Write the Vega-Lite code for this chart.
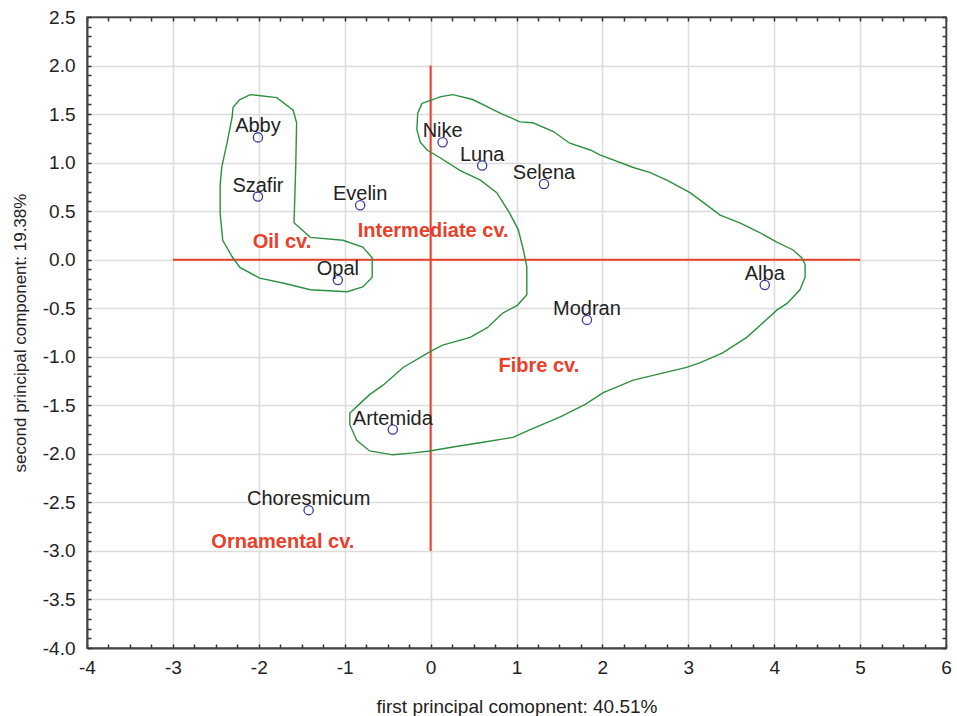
{
  "$schema": "https://vega.github.io/schema/vega-lite/v6.json",
  "width": 859,
  "height": 631,
  "autosize": {"type": "none"},
  "padding": {"left": 87, "top": 17, "right": 11, "bottom": 68},
  "background": "white",
  "config": {
    "font": "Liberation Sans",
    "view": {"stroke": "#444444", "strokeWidth": 1.5},
    "axis": {"labelFont": "Liberation Sans", "titleFont": "Liberation Sans", "labelColor": "#222222", "titleColor": "#222222"}
  },
  "datasets": {
    "pts": [
      {"name": "Abby", "x": -2.01, "y": 1.26},
      {"name": "Szafir", "x": -2.01, "y": 0.65},
      {"name": "Evelin", "x": -0.82, "y": 0.56},
      {"name": "Opal", "x": -1.08, "y": -0.21},
      {"name": "Nike", "x": 0.14, "y": 1.21},
      {"name": "Luna", "x": 0.6, "y": 0.97},
      {"name": "Selena", "x": 1.32, "y": 0.78},
      {"name": "Alba", "x": 3.89, "y": -0.26},
      {"name": "Modran", "x": 1.82, "y": -0.62},
      {"name": "Artemida", "x": -0.44, "y": -1.75},
      {"name": "Choresmicum", "x": -1.42, "y": -2.58}
    ],
    "groups": [
      {"label": "Oil cv.", "x": -1.73, "y": 0.18},
      {"label": "Intermediate cv.", "x": 0.03, "y": 0.3},
      {"label": "Fibre cv.", "x": 1.26, "y": -1.09},
      {"label": "Ornamental cv.", "x": -1.72, "y": -2.91}
    ],
    "axes": [
      {"x": -3, "x2": 5, "y": 0, "y2": 0},
      {"x": 0, "x2": 0, "y": -3, "y2": 2}
    ],
    "contours": [
      {"g": "oil", "o": 1, "x": -2.22, "y": 1.65},
      {"g": "oil", "o": 2, "x": -2.1, "y": 1.7},
      {"g": "oil", "o": 3, "x": -1.79, "y": 1.67},
      {"g": "oil", "o": 4, "x": -1.6, "y": 1.54},
      {"g": "oil", "o": 5, "x": -1.56, "y": 1.41},
      {"g": "oil", "o": 6, "x": -1.57, "y": 0.96},
      {"g": "oil", "o": 7, "x": -1.59, "y": 0.38},
      {"g": "oil", "o": 8, "x": -1.4, "y": 0.23},
      {"g": "oil", "o": 9, "x": -1.02, "y": 0.2},
      {"g": "oil", "o": 10, "x": -0.79, "y": 0.13},
      {"g": "oil", "o": 11, "x": -0.68, "y": 0.02},
      {"g": "oil", "o": 12, "x": -0.68, "y": -0.18},
      {"g": "oil", "o": 13, "x": -0.79, "y": -0.28},
      {"g": "oil", "o": 14, "x": -0.97, "y": -0.33},
      {"g": "oil", "o": 15, "x": -1.4, "y": -0.31},
      {"g": "oil", "o": 16, "x": -1.72, "y": -0.24},
      {"g": "oil", "o": 17, "x": -1.99, "y": -0.19},
      {"g": "oil", "o": 18, "x": -2.22, "y": -0.08},
      {"g": "oil", "o": 19, "x": -2.31, "y": 0.03},
      {"g": "oil", "o": 20, "x": -2.42, "y": 0.2},
      {"g": "oil", "o": 21, "x": -2.45, "y": 0.48},
      {"g": "oil", "o": 22, "x": -2.45, "y": 0.77},
      {"g": "oil", "o": 23, "x": -2.43, "y": 0.96},
      {"g": "oil", "o": 24, "x": -2.37, "y": 1.2},
      {"g": "oil", "o": 25, "x": -2.31, "y": 1.47},
      {"g": "oil", "o": 26, "x": -2.3, "y": 1.57},
      {"g": "oil", "o": 27, "x": -2.22, "y": 1.65},
      {"g": "fib", "o": 1, "x": -0.1, "y": 1.61},
      {"g": "fib", "o": 2, "x": 0.12, "y": 1.68},
      {"g": "fib", "o": 3, "x": 0.26, "y": 1.7},
      {"g": "fib", "o": 4, "x": 0.49, "y": 1.65},
      {"g": "fib", "o": 5, "x": 0.81, "y": 1.51},
      {"g": "fib", "o": 6, "x": 1.04, "y": 1.42},
      {"g": "fib", "o": 7, "x": 1.19, "y": 1.41},
      {"g": "fib", "o": 8, "x": 1.43, "y": 1.32},
      {"g": "fib", "o": 9, "x": 1.62, "y": 1.2},
      {"g": "fib", "o": 10, "x": 1.86, "y": 1.13},
      {"g": "fib", "o": 11, "x": 1.97, "y": 1.08},
      {"g": "fib", "o": 12, "x": 2.36, "y": 0.95},
      {"g": "fib", "o": 13, "x": 2.55, "y": 0.9},
      {"g": "fib", "o": 14, "x": 2.75, "y": 0.82},
      {"g": "fib", "o": 15, "x": 3.02, "y": 0.69},
      {"g": "fib", "o": 16, "x": 3.22, "y": 0.56},
      {"g": "fib", "o": 17, "x": 3.37, "y": 0.46},
      {"g": "fib", "o": 18, "x": 3.6, "y": 0.38},
      {"g": "fib", "o": 19, "x": 3.83, "y": 0.28},
      {"g": "fib", "o": 20, "x": 4.03, "y": 0.18},
      {"g": "fib", "o": 21, "x": 4.22, "y": 0.1},
      {"g": "fib", "o": 22, "x": 4.32, "y": 0.02},
      {"g": "fib", "o": 23, "x": 4.36, "y": -0.05},
      {"g": "fib", "o": 24, "x": 4.36, "y": -0.18},
      {"g": "fib", "o": 25, "x": 4.3, "y": -0.31},
      {"g": "fib", "o": 26, "x": 4.15, "y": -0.45},
      {"g": "fib", "o": 27, "x": 4.03, "y": -0.52},
      {"g": "fib", "o": 28, "x": 3.87, "y": -0.65},
      {"g": "fib", "o": 29, "x": 3.68, "y": -0.8},
      {"g": "fib", "o": 30, "x": 3.4, "y": -0.96},
      {"g": "fib", "o": 31, "x": 3.14, "y": -1.06},
      {"g": "fib", "o": 32, "x": 2.98, "y": -1.11},
      {"g": "fib", "o": 33, "x": 2.36, "y": -1.24},
      {"g": "fib", "o": 34, "x": 2.01, "y": -1.37},
      {"g": "fib", "o": 35, "x": 1.8, "y": -1.49},
      {"g": "fib", "o": 36, "x": 1.51, "y": -1.62},
      {"g": "fib", "o": 37, "x": 1.16, "y": -1.75},
      {"g": "fib", "o": 38, "x": 0.96, "y": -1.83},
      {"g": "fib", "o": 39, "x": 0.61, "y": -1.88},
      {"g": "fib", "o": 40, "x": 0.26, "y": -1.93},
      {"g": "fib", "o": 41, "x": -0.01, "y": -1.97},
      {"g": "fib", "o": 42, "x": -0.2, "y": -1.99},
      {"g": "fib", "o": 43, "x": -0.44, "y": -2.01},
      {"g": "fib", "o": 44, "x": -0.71, "y": -1.97},
      {"g": "fib", "o": 45, "x": -0.86, "y": -1.86},
      {"g": "fib", "o": 46, "x": -0.94, "y": -1.7},
      {"g": "fib", "o": 47, "x": -0.94, "y": -1.58},
      {"g": "fib", "o": 48, "x": -0.82, "y": -1.48},
      {"g": "fib", "o": 49, "x": -0.71, "y": -1.39},
      {"g": "fib", "o": 50, "x": -0.55, "y": -1.29},
      {"g": "fib", "o": 51, "x": -0.32, "y": -1.11},
      {"g": "fib", "o": 52, "x": -0.01, "y": -0.95},
      {"g": "fib", "o": 53, "x": 0.14, "y": -0.88},
      {"g": "fib", "o": 54, "x": 0.46, "y": -0.8},
      {"g": "fib", "o": 55, "x": 0.66, "y": -0.7},
      {"g": "fib", "o": 56, "x": 0.84, "y": -0.55},
      {"g": "fib", "o": 57, "x": 1.01, "y": -0.47},
      {"g": "fib", "o": 58, "x": 1.12, "y": -0.36},
      {"g": "fib", "o": 59, "x": 1.12, "y": -0.21},
      {"g": "fib", "o": 60, "x": 1.12, "y": -0.07},
      {"g": "fib", "o": 61, "x": 1.08, "y": 0.1},
      {"g": "fib", "o": 62, "x": 1.02, "y": 0.31},
      {"g": "fib", "o": 63, "x": 0.92, "y": 0.48},
      {"g": "fib", "o": 64, "x": 0.77, "y": 0.69},
      {"g": "fib", "o": 65, "x": 0.58, "y": 0.82},
      {"g": "fib", "o": 66, "x": 0.34, "y": 0.92},
      {"g": "fib", "o": 67, "x": 0.11, "y": 1.05},
      {"g": "fib", "o": 68, "x": -0.04, "y": 1.13},
      {"g": "fib", "o": 69, "x": -0.12, "y": 1.21},
      {"g": "fib", "o": 70, "x": -0.16, "y": 1.34},
      {"g": "fib", "o": 71, "x": -0.15, "y": 1.51},
      {"g": "fib", "o": 72, "x": -0.1, "y": 1.61}
    ]
  },
  "resolve": {"axis": {"x": "independent", "y": "independent"}},
  "layer": [
    {
      "data": {"name": "axes"},
      "mark": {"type": "rule", "color": "#e8402a", "strokeWidth": 2},
      "encoding": {
        "x": {
          "field": "x", "type": "quantitative",
          "scale": {"domain": [-4, 6], "nice": false, "zero": false},
          "axis": {
            "orient": "bottom",
            "title": "first principal comopnent: 40.51%",
            "titleFontSize": 19, "titleFontWeight": "normal", "titlePadding": 20,
            "values": [-4,-3.75,-3.5,-3.25,-3,-2.75,-2.5,-2.25,-2,-1.75,-1.5,-1.25,-1,-0.75,-0.5,-0.25,0,0.25,0.5,0.75,1,1.25,1.5,1.75,2,2.25,2.5,2.75,3,3.25,3.5,3.75,4,4.25,4.5,4.75,5,5.25,5.5,5.75,6],
            "labelExpr": "abs(datum.value - round(datum.value)) < 0.001 ? replace(format(datum.value, 'd'), '\u2212', '-') : ''",
            "labelFontSize": 19, "labelOverlap": false, "labelFlush": false, "labelPadding": 14,
            "grid": true, "gridColor": "#dcdcdc", "gridWidth": 1.5,
            "gridOpacity": {"condition": {"test": "abs(datum.value - round(datum.value)) < 0.001", "value": 1}, "value": 0},
            "tickSize": -4, "tickColor": "#333333", "tickWidth": 1.5,
            "domainColor": "#444444", "domainWidth": 2
          }
        },
        "x2": {"field": "x2"},
        "y": {
          "field": "y", "type": "quantitative",
          "scale": {"domain": [-4, 2.5], "nice": false, "zero": false},
          "axis": {
            "orient": "left",
            "title": "second principal component: 19.38%",
            "titleFontSize": 17, "titleFontWeight": "normal", "titlePadding": 13,
            "values": [-4,-3.9,-3.8,-3.7,-3.6,-3.5,-3.4,-3.3,-3.2,-3.1,-3,-2.9,-2.8,-2.7,-2.6,-2.5,-2.4,-2.3,-2.2,-2.1,-2,-1.9,-1.8,-1.7,-1.6,-1.5,-1.4,-1.3,-1.2,-1.1,-1,-0.9,-0.8,-0.7,-0.6,-0.5,-0.4,-0.3,-0.2,-0.1,0,0.1,0.2,0.3,0.4,0.5,0.6,0.7,0.8,0.9,1,1.1,1.2,1.3,1.4,1.5,1.6,1.7,1.8,1.9,2,2.1,2.2,2.3,2.4,2.5],
            "labelExpr": "abs(datum.value * 2 - round(datum.value * 2)) < 0.001 ? replace(format(datum.value, '.1f'), '\u2212', '-') : ''",
            "labelFontSize": 19, "labelOverlap": false, "labelFlush": false, "labelPadding": 16,
            "grid": true, "gridColor": "#dcdcdc", "gridWidth": 1.5,
            "gridOpacity": {"condition": {"test": "abs(datum.value * 2 - round(datum.value * 2)) < 0.001", "value": 1}, "value": 0},
            "tickSize": -4, "tickColor": "#333333", "tickWidth": 1.5,
            "domainColor": "#444444", "domainWidth": 2
          }
        },
        "y2": {"field": "y2"}
      }
    },
    {
      "data": {"name": "contours"},
      "mark": {"type": "line", "color": "#2e9040", "strokeWidth": 1.4, "interpolate": "linear"},
      "encoding": {
        "x": {
          "field": "x", "type": "quantitative",
          "axis": {
            "orient": "top", "title": null, "labels": false, "grid": false,
            "values": [-4,-3.75,-3.5,-3.25,-3,-2.75,-2.5,-2.25,-2,-1.75,-1.5,-1.25,-1,-0.75,-0.5,-0.25,0,0.25,0.5,0.75,1,1.25,1.5,1.75,2,2.25,2.5,2.75,3,3.25,3.5,3.75,4,4.25,4.5,4.75,5,5.25,5.5,5.75,6],
            "tickSize": -4, "tickColor": "#333333", "tickWidth": 1.5,
            "domainColor": "#444444", "domainWidth": 1.5
          }
        },
        "y": {
          "field": "y", "type": "quantitative",
          "axis": {
            "orient": "right", "title": null, "labels": false, "grid": false,
            "values": [-4,-3.9,-3.8,-3.7,-3.6,-3.5,-3.4,-3.3,-3.2,-3.1,-3,-2.9,-2.8,-2.7,-2.6,-2.5,-2.4,-2.3,-2.2,-2.1,-2,-1.9,-1.8,-1.7,-1.6,-1.5,-1.4,-1.3,-1.2,-1.1,-1,-0.9,-0.8,-0.7,-0.6,-0.5,-0.4,-0.3,-0.2,-0.1,0,0.1,0.2,0.3,0.4,0.5,0.6,0.7,0.8,0.9,1,1.1,1.2,1.3,1.4,1.5,1.6,1.7,1.8,1.9,2,2.1,2.2,2.3,2.4,2.5],
            "tickSize": -4, "tickColor": "#333333", "tickWidth": 1.5,
            "domainColor": "#444444", "domainWidth": 1.5
          }
        },
        "detail": {"field": "g"},
        "order": {"field": "o", "type": "quantitative"}
      }
    },
    {
      "data": {"name": "pts"},
      "mark": {"type": "point", "shape": "circle", "filled": false, "stroke": "#3b3b9e", "strokeWidth": 1.3, "size": 85, "opacity": 1},
      "encoding": {
        "x": {"field": "x", "type": "quantitative", "axis": null},
        "y": {"field": "y", "type": "quantitative", "axis": null}
      }
    },
    {
      "data": {"name": "pts"},
      "mark": {"type": "text", "font": "Liberation Sans", "fontSize": 20, "color": "#222222", "align": "center", "baseline": "alphabetic", "dy": -5},
      "encoding": {
        "x": {"field": "x", "type": "quantitative", "axis": null},
        "y": {"field": "y", "type": "quantitative", "axis": null},
        "text": {"field": "name"}
      }
    },
    {
      "data": {"name": "groups"},
      "mark": {"type": "text", "font": "Liberation Sans", "fontSize": 20, "fontWeight": "bold", "color": "#e8402a", "align": "center", "baseline": "middle"},
      "encoding": {
        "x": {"field": "x", "type": "quantitative", "axis": null},
        "y": {"field": "y", "type": "quantitative", "axis": null},
        "text": {"field": "label"}
      }
    }
  ]
}
